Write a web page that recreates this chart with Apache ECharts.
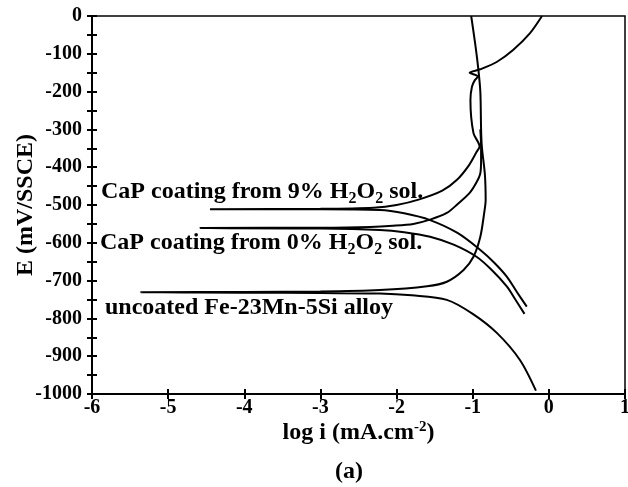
<!DOCTYPE html>
<html>
<head>
<meta charset="utf-8">
<script src="https://cdn.jsdelivr.net/npm/echarts@6/dist/echarts.min.js"></script>
<style>
  html, body { margin: 0; padding: 0; background: #fff; }
  #main { width: 628px; height: 487px; }
</style>
</head>
<body>
<div id="main"></div>
<script>
// polarization curves, points run from cathodic end -> tip at Ecorr -> anodic end
var uncoatedLogI = [-0.17, -0.38, -0.68, -1.0, -1.34, -1.8, -2.22, -3.0, -4.0, -5.36,
  -4.0, -3.0, -2.22, -1.6, -1.34, -1.12, -0.99, -0.9, -0.85, -0.83, -0.84, -0.88, -0.89, -0.9, -0.93, -0.97, -1.02];
var uncoatedE = [-991, -910, -839, -788, -751, -739, -734, -733, -732, -731,
  -730, -729, -725, -715, -703, -672, -637, -584, -522, -487, -420, -346, -300, -200, -134, -70, 0];

var h2o2_9LogI = [-0.29, -0.42, -0.55, -0.72, -0.9, -1.2, -1.56, -1.9, -2.22, -3.0, -4.45,
  -3.0, -2.3, -2.0, -1.7, -1.4, -1.21, -1.05, -0.95, -0.91, -0.99, -1.03, -1.01, -0.97, -0.93, -1.04, -0.9, -0.68, -0.47, -0.25, -0.09];
var h2o2_9E = [-769, -730, -690, -652, -619, -574, -540, -522, -513, -511, -511,
  -510, -507, -500, -485, -462, -434, -395, -360, -345, -310, -222, -187, -169, -160, -150, -141, -121, -90, -46, 0];

var h2o2_0LogI = [-0.32, -0.44, -0.55, -0.75, -0.95, -1.25, -1.56, -1.9, -2.22, -3.0, -4.58,
  -3.0, -2.35, -2.05, -1.78, -1.55, -1.34, -1.2, -1.04, -0.95, -0.9, -0.89, -0.89, -0.9];
var h2o2_0E = [-788, -750, -716, -672, -637, -605, -584, -572, -566, -562, -561,
  -560, -558, -555, -550, -538, -521, -498, -468, -440, -416, -380, -346, -300];

var xTicks = [-6, 1, 1];       // min, max, step
var yTicks = [-1000, 0, 50];   // min, max, step (labels every 100)

function zip(xs, ys) {
  return xs.map(function (x, i) { return [x, ys[i]]; });
}

var FONT = '"Liberation Serif", "Times New Roman", serif';
var chart = echarts.init(document.getElementById('main'));

function curve(name, xs, ys) {
  return {
    name: name,
    type: 'line',
    data: zip(xs, ys),
    symbol: 'none',
    smooth: 0.3,
    lineStyle: { color: '#000', width: 2 },
    animation: false
  };
}

// second pair of axes only carries the inward half of the crossing ticks
chart.setOption({
  animation: false,
  grid: {
    left: 92, right: 3, top: 16, bottom: 93,
    outerBoundsMode: 'none',
    show: true, borderColor: '#000', borderWidth: 1.5
  },
  xAxis: [{
    type: 'value', min: xTicks[0], max: xTicks[1], interval: xTicks[2], position: 'bottom',
    axisLine: { onZero: false, lineStyle: { color: '#000', width: 2 } },
    axisTick: { length: 5, lineStyle: { color: '#000', width: 2 } },
    splitLine: { show: false },
    axisLabel: { color: '#000', fontFamily: FONT, fontWeight: 'bold', fontSize: 20, margin: 4 },
    name: 'log i (mA.cm{sup|-2})',
    nameLocation: 'middle',
    nameGap: 26,
    nameMoveOverlap: false,
    nameTextStyle: {
      color: '#000', fontFamily: FONT, fontWeight: 'bold', fontSize: 24,
      rich: { sup: { fontFamily: FONT, fontWeight: 'bold', fontSize: 15, padding: [0, 0, 10, 0] } }
    }
  }, {
    type: 'value', min: xTicks[0], max: xTicks[1], interval: xTicks[2], position: 'bottom',
    axisLine: { show: false, onZero: false },
    axisTick: { inside: true, length: 5, lineStyle: { color: '#000', width: 2 } },
    axisLabel: { show: false }, splitLine: { show: false }
  }],
  yAxis: [{
    type: 'value', min: yTicks[0], max: yTicks[1], interval: yTicks[2], position: 'left',
    axisLine: { onZero: false, lineStyle: { color: '#000', width: 2 } },
    axisTick: { length: 5, lineStyle: { color: '#000', width: 2 } },
    splitLine: { show: false },
    axisLabel: {
      color: '#000', fontFamily: FONT, fontWeight: 'bold', fontSize: 20, margin: 10,
      formatter: function (v) { return v % 100 === 0 ? String(v) : ''; }
    },
    name: 'E (mV/SSCE)',
    nameLocation: 'middle',
    nameGap: 54,
    nameMoveOverlap: false,
    nameTextStyle: { color: '#000', fontFamily: FONT, fontWeight: 'bold', fontSize: 24 }
  }, {
    type: 'value', min: yTicks[0], max: yTicks[1], interval: yTicks[2], position: 'left',
    axisLine: { show: false, onZero: false },
    axisTick: { inside: true, length: 5, lineStyle: { color: '#000', width: 2 } },
    axisLabel: { show: false }, splitLine: { show: false }
  }],
  series: [
    curve('uncoated', uncoatedLogI, uncoatedE),
    curve('9% H2O2', h2o2_9LogI, h2o2_9E),
    curve('0% H2O2', h2o2_0LogI, h2o2_0E)
  ],
  graphic: [
    {
      type: 'text', x: 101, y: 192,
      style: {
        text: 'CaP coating from 9% H{s|2}O{s|2} sol.',
        font: 'bold 24px ' + FONT, fill: '#000', verticalAlign: 'middle',
        rich: { s: { fontFamily: FONT, fontWeight: 'bold', fontSize: 16, padding: [14, 0, 0, 0] } }
      }
    },
    {
      type: 'text', x: 100, y: 243,
      style: {
        text: 'CaP coating from 0% H{s|2}O{s|2} sol.',
        font: 'bold 24px ' + FONT, fill: '#000', verticalAlign: 'middle',
        rich: { s: { fontFamily: FONT, fontWeight: 'bold', fontSize: 16, padding: [14, 0, 0, 0] } }
      }
    },
    {
      type: 'text', x: 105, y: 308,
      style: {
        text: 'uncoated Fe-23Mn-5Si alloy',
        font: 'bold 24px ' + FONT, fill: '#000', verticalAlign: 'middle'
      }
    },
    {
      type: 'text', x: 349, y: 472,
      style: {
        text: '(a)', font: 'bold 24px ' + FONT, fill: '#000',
        align: 'center', verticalAlign: 'middle'
      }
    }
  ]
});
</script>
</body>
</html>
